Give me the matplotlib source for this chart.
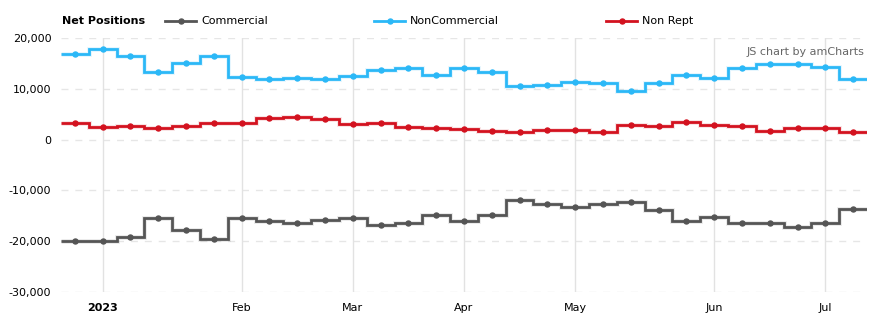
import numpy as np
import matplotlib
matplotlib.use("Agg")
import matplotlib.pyplot as plt

dates = ["2022-12-27", "2023-01-03", "2023-01-10", "2023-01-17", "2023-01-24", "2023-01-31",
         "2023-02-07", "2023-02-14", "2023-02-21", "2023-02-28", "2023-03-07", "2023-03-14",
         "2023-03-21", "2023-03-28", "2023-04-04", "2023-04-11", "2023-04-18", "2023-04-25",
         "2023-05-02", "2023-05-09", "2023-05-16", "2023-05-23", "2023-05-30", "2023-06-06",
         "2023-06-13", "2023-06-20", "2023-06-27", "2023-07-04", "2023-07-11"]

commercial = [-19960, -19960, -19260, -15530, -17880, -19650, -15340, -16120, -16510, -15920,
              -15530, -16900, -16510, -14940, -16120, -14940, -11800, -12590, -13180, -12590,
              -12200, -13770, -16120, -15140, -16510, -16510, -17300, -16510, -13570]
noncommercial = [16820, 17880, 16510, 13290, 15140, 16510, 12310, 11920, 12120, 11920,
                 12510, 13630, 14160, 12710, 14160, 13290, 10550, 10820, 11330, 11180,
                 9570, 11220, 12780, 12200, 14080, 14940, 14940, 14270, 11920]
nonrept = [3290, 2510, 2710, 2310, 2710, 3290, 3290, 4270, 4470, 4080,
           3100, 3290, 2510, 2310, 2120, 1730, 1530, 1920, 1920, 1530,
           2900, 2650, 3490, 2900, 2650, 1730, 2310, 2310, 1530]

series_names = ["Commercial", "NonCommercial", "Non Rept"]
series_colors = ["#555555", "#2bb8f7", "#d3121f"]
y_ticks = [20000, 10000, 0, -10000, -20000, -30000]
month_names = ["Jan", "Feb", "Mar", "Apr", "May", "Jun", "Jul", "Aug", "Sep", "Oct", "Nov", "Dec"]

W, H = 881, 326
fig = plt.figure(figsize=(W / 100, H / 100), dpi=100)
ax = fig.add_axes([61 / W, (326 - 292) / H, (867 - 61) / W, (292 - 38) / H])

n = len(dates)
x = np.arange(n)
edges = np.arange(n + 1) - 0.5

for vals, col, name in zip([commercial, noncommercial, nonrept], series_colors, series_names):
    ax.stairs(vals, edges, baseline=None, color=col, lw=3.5, alpha=0.12, zorder=2)
    ax.stairs(vals, edges, baseline=None, color=col, lw=2.0, zorder=3)
    ax.plot(x, vals, ls="none", marker="o", ms=3.6, color=col, zorder=4)

# month ticks: first data point of each month
ticks, labels = [], []
prev = None
for i, d in enumerate(dates):
    y, m, _ = d.split("-")
    key = (y, m)
    if prev is not None and key != prev:
        if m == "01":
            labels.append(y)
        else:
            labels.append(month_names[int(m) - 1])
        ticks.append(i)
    prev = key

ax.set_xlim(-0.5, n - 0.5)
ax.set_ylim(-30000, 20000)
ax.set_xticks(ticks)
ax.set_xticklabels(labels)
for t, lab in zip(ax.get_xticklabels(), labels):
    if lab.isdigit():
        t.set_fontweight("bold")
ax.set_yticks(y_ticks)
ax.set_yticklabels([f"{v:,}" for v in y_ticks])

ax.tick_params(axis="both", length=0, labelsize=8, colors="#000000")
ax.tick_params(axis="y", pad=7)
ax.tick_params(axis="x", pad=8)

for v in y_ticks:
    ax.axhline(v, color="#e6e6e6", lw=1, ls=(0, (5, 5)), zorder=1)
for t in ticks:
    ax.axvline(t, color="#e2e2e2", lw=1, zorder=1)

for s in ax.spines.values():
    s.set_visible(False)

# legend
fig.text(62 / W, 1 - 21 / H, "Net Positions", fontsize=8, fontweight="bold", va="center", ha="left")
leg_pos = [(165, 196, 201), (374, 405, 410), (606, 637, 642)]
for (x0, x1, tx), col, name in zip(leg_pos, series_colors, series_names):
    fig.add_artist(plt.Line2D([x0 / W, x1 / W], [1 - 21 / H, 1 - 21 / H], color=col, lw=2,
                              transform=fig.transFigure))
    fig.add_artist(plt.Line2D([(x0 + x1) / 2 / W], [1 - 21 / H], color=col, marker="o", ms=3.6,
                              transform=fig.transFigure))
    fig.text(tx / W, 1 - 21 / H, name, fontsize=8, va="center", ha="left")

fig.text(864 / W, 1 - 52 / H, "JS chart by amCharts", fontsize=8, color="#666666", ha="right", va="center")

fig.savefig("out.png", dpi=100)
